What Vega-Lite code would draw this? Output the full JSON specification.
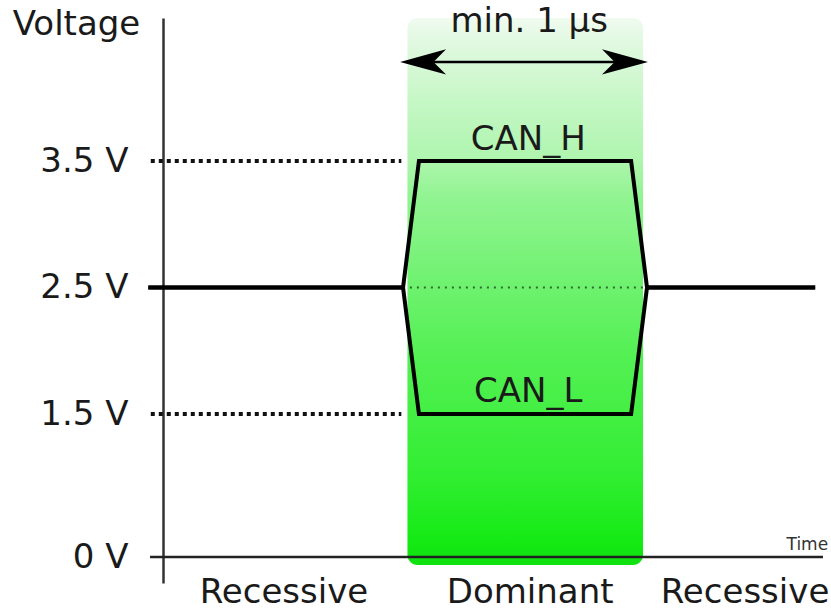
{
  "$schema": "https://vega.github.io/schema/vega-lite/v6.json",
  "autosize": {"type": "none"},
  "padding": {"left": 163, "top": 18, "right": 8, "bottom": 28},
  "width": 660,
  "height": 565,
  "background": "white",
  "config": {"view": {"stroke": null}, "font": "DejaVu Sans"},
  "datasets": {
    "window": [{"t0": 1.0, "t1": 1.964, "vtop": 4.63, "vbot": -0.084}],
    "signals": [
      {"series": "CAN_H", "t": -0.06, "v": 2.5},
      {"series": "CAN_H", "t": 0.982, "v": 2.5},
      {"series": "CAN_H", "t": 1.047, "v": 3.5},
      {"series": "CAN_H", "t": 1.915, "v": 3.5},
      {"series": "CAN_H", "t": 1.98, "v": 2.5},
      {"series": "CAN_H", "t": 2.668, "v": 2.5},
      {"series": "CAN_L", "t": -0.06, "v": 2.5},
      {"series": "CAN_L", "t": 0.982, "v": 2.5},
      {"series": "CAN_L", "t": 1.047, "v": 1.5},
      {"series": "CAN_L", "t": 1.915, "v": 1.5},
      {"series": "CAN_L", "t": 1.98, "v": 2.5},
      {"series": "CAN_L", "t": 2.668, "v": 2.5}
    ],
    "levels": [
      {"level": "3.5 V", "t0": -0.05, "t1": 0.975, "v": 3.5},
      {"level": "1.5 V", "t0": -0.05, "t1": 0.975, "v": 1.5}
    ],
    "mid": [{"t0": 1.01, "t1": 1.975, "v": 2.5}],
    "baseline": [{"t0": -0.053, "t1": 2.70, "v": 0}],
    "arrow": [{"t0": 1.06, "t1": 1.895, "v": 4.283}],
    "heads": [
      {"dir": "left", "t": 1.064, "v": 4.283},
      {"dir": "right", "t": 1.890, "v": 4.283}
    ],
    "labels": [
      {"text": "min. 1 µs", "t": 1.498, "v": 4.6},
      {"text": "CAN_H", "t": 1.494, "v": 3.666},
      {"text": "CAN_L", "t": 1.494, "v": 1.674},
      {"text": "Recessive", "t": 0.495, "v": -0.378},
      {"text": "Dominant", "t": 1.502, "v": -0.378},
      {"text": "Recessive", "t": 2.381, "v": -0.378}
    ],
    "timelabel": [{"text": "Time", "t": 2.721, "v": 0.126}]
  },
  "layer": [
    {
      "data": {"name": "window"},
      "mark": {
        "type": "rect",
        "cornerRadius": 10,
        "fill": {
          "gradient": "linear",
          "x1": 0, "y1": 0, "x2": 0, "y2": 1,
          "stops": [
            {"offset": 0, "color": "#f0fbf0"},
            {"offset": 0.04, "color": "#e2f9e2"},
            {"offset": 0.15, "color": "#c6f7c6"},
            {"offset": 0.26, "color": "#aef5ae"},
            {"offset": 0.33, "color": "#90f490"},
            {"offset": 0.61, "color": "#55f055"},
            {"offset": 0.83, "color": "#33ee33"},
            {"offset": 0.96, "color": "#14ea14"},
            {"offset": 1, "color": "#10e010"}
          ]
        }
      },
      "encoding": {
        "x": {"field": "t0", "type": "quantitative", "scale": {"domain": [0, 2.7], "nice": false, "zero": false}, "axis": null},
        "x2": {"field": "t1"},
        "y": {
          "field": "vtop", "type": "quantitative",
          "scale": {"domain": [-0.273, 0, 1.5, 3.5, 4.63], "range": [565, 539, 396, 143, 0], "nice": false, "zero": false},
          "axis": {
            "values": [0, 1.5, 2.5, 3.5],
            "labelExpr": "datum.value + ' V'",
            "ticks": false, "tickSize": 0, "grid": false,
            "labelPadding": 35, "labelFontSize": 34, "labelFont": "DejaVu Sans",
            "labelColor": "#1a1a1a", "labelOverlap": false, "labelFlush": false,
            "domainColor": "#333333", "domainWidth": 2.5,
            "title": "Voltage", "titleAngle": 0, "titleX": -87, "titleY": 6,
            "titleAlign": "center", "titleBaseline": "middle",
            "titleFontSize": 34, "titleFontWeight": "normal", "titleFont": "DejaVu Sans", "titleColor": "#1a1a1a"
          }
        },
        "y2": {"field": "vbot"}
      }
    },
    {
      "data": {"name": "levels"},
      "mark": {"type": "rule", "strokeWidth": 4, "strokeDash": [4, 4], "color": "#111111"},
      "encoding": {
        "x": {"field": "t0", "type": "quantitative"},
        "x2": {"field": "t1"},
        "y": {"field": "v", "type": "quantitative"}
      }
    },
    {
      "data": {"name": "mid"},
      "mark": {"type": "rule", "strokeWidth": 2, "strokeDash": [2, 5], "color": "#2f6a2f"},
      "encoding": {
        "x": {"field": "t0", "type": "quantitative"},
        "x2": {"field": "t1"},
        "y": {"field": "v", "type": "quantitative"}
      }
    },
    {
      "data": {"name": "signals"},
      "mark": {"type": "line", "strokeWidth": 4, "color": "#000000", "strokeJoin": "miter"},
      "encoding": {
        "x": {"field": "t", "type": "quantitative"},
        "y": {"field": "v", "type": "quantitative"},
        "detail": {"field": "series", "type": "nominal"}
      }
    },
    {
      "data": {"name": "baseline"},
      "mark": {"type": "rule", "strokeWidth": 2.5, "color": "#222222"},
      "encoding": {
        "x": {"field": "t0", "type": "quantitative"},
        "x2": {"field": "t1"},
        "y": {"field": "v", "type": "quantitative"}
      }
    },
    {
      "data": {"name": "arrow"},
      "mark": {"type": "rule", "strokeWidth": 2.5, "color": "#000000"},
      "encoding": {
        "x": {"field": "t0", "type": "quantitative"},
        "x2": {"field": "t1"},
        "y": {"field": "v", "type": "quantitative"}
      }
    },
    {
      "data": {"name": "heads"},
      "transform": [{"filter": "datum.dir == 'right'"}],
      "mark": {"type": "point", "filled": true, "color": "#000000", "opacity": 1, "size": 2116, "shape": "M1,0 L-1,-0.55 L-0.45,0 L-1,0.55 Z"},
      "encoding": {
        "x": {"field": "t", "type": "quantitative"},
        "y": {"field": "v", "type": "quantitative"}
      }
    },
    {
      "data": {"name": "heads"},
      "transform": [{"filter": "datum.dir == 'left'"}],
      "mark": {"type": "point", "filled": true, "color": "#000000", "opacity": 1, "size": 2116, "shape": "M-1,0 L1,-0.55 L0.45,0 L1,0.55 Z"},
      "encoding": {
        "x": {"field": "t", "type": "quantitative"},
        "y": {"field": "v", "type": "quantitative"}
      }
    },
    {
      "data": {"name": "labels"},
      "mark": {"type": "text", "fontSize": 34, "font": "DejaVu Sans", "color": "#1a1a1a", "align": "center", "baseline": "middle"},
      "encoding": {
        "x": {"field": "t", "type": "quantitative"},
        "y": {"field": "v", "type": "quantitative"},
        "text": {"field": "text"}
      }
    },
    {
      "data": {"name": "timelabel"},
      "mark": {"type": "text", "fontSize": 17, "font": "DejaVu Sans", "color": "#333333", "align": "right", "baseline": "middle"},
      "encoding": {
        "x": {"field": "t", "type": "quantitative"},
        "y": {"field": "v", "type": "quantitative"},
        "text": {"field": "text"}
      }
    }
  ]
}
